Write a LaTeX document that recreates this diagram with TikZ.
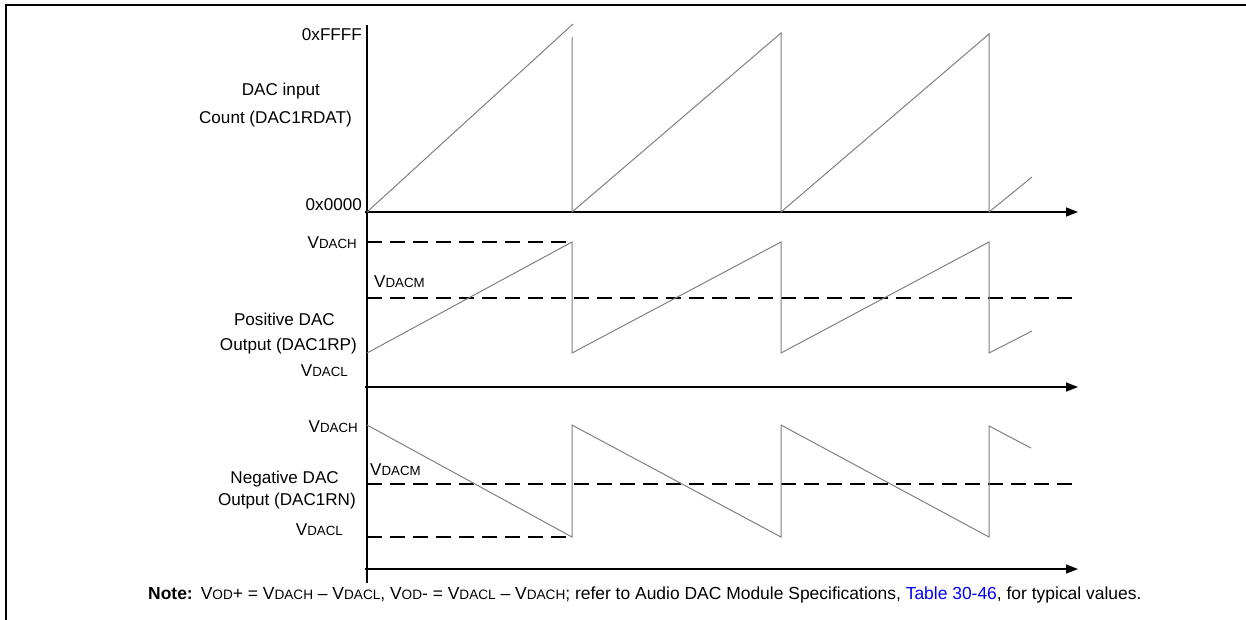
\documentclass[tikz,border=0pt]{standalone}
\usepackage{fontspec}
\setmainfont{Liberation Sans}
\usetikzlibrary{arrows.meta}
\newcommand\smc[1]{{\fontsize{13.3}{16}\selectfont #1}}
\newcommand\smn[1]{{\fontsize{13.6}{16}\selectfont #1}}
\begin{document}
\begin{tikzpicture}[x=1pt,y=-1pt,
  axis/.style={line width=1.5pt,-{Triangle[length=12pt,width=9pt]}},
  vaxis/.style={line width=1.5pt},
  wave/.style={line width=1pt,draw=black!50},
  refline/.style={line width=1.3pt,dash pattern=on 15pt off 8pt},
  lbl/.style={inner sep=0pt,font=\fontsize{17.1}{20}\selectfont},
  notelbl/.style={inner sep=0pt,font=\fontsize{17.45}{20}\selectfont},
  frame/.style={line width=2.6pt,line cap=rect}
]
\useasboundingbox (0,0) rectangle (1246,619);
% frame
\coordinate (fbl) at (6,619);
\coordinate (ftl) at (6,5);
\coordinate (ftr) at (1246,5);
\draw[frame] (fbl) -- (ftl) -- (ftr);

% axes
\coordinate (vtop) at (367,25);
\coordinate (vbot) at (367,583);
\draw[vaxis] (vtop) -- (vbot);
\coordinate (a1s) at (365,212); \coordinate (a1e) at (1078,212);
\coordinate (a2s) at (365,387); \coordinate (a2e) at (1078,387);
\coordinate (a3s) at (365,569); \coordinate (a3e) at (1078,569);
\draw[axis] (a1s) -- (a1e);
\draw[axis] (a2s) -- (a2e);
\draw[axis] (a3s) -- (a3e);

% reference (dashed) levels
\coordinate (h2s) at (367,242); \coordinate (h2e) at (572,242);
\coordinate (m2s) at (367,298); \coordinate (m2e) at (1078,298);
\coordinate (m3s) at (367,484); \coordinate (m3e) at (1078,484);
\coordinate (l3s) at (367,537); \coordinate (l3e) at (572,537);
\draw[refline] (h2s) -- (h2e);
\draw[refline] (m2s) -- (m2e);
\draw[refline] (m3s) -- (m3e);
\draw[refline] (l3s) -- (l3e);

% DAC input count waveform
\draw[wave] (367,212) -- (573,24);
\draw[wave] (572,37) -- (572,212) -- (781,33) -- (781,212) -- (989,34) -- (989,212) -- (1032,177);

% positive DAC output
\draw[wave] (367,353) -- (572,242) -- (572,353) -- (781,242) -- (781,353) -- (989,242) -- (989,353) -- (1032,331);

% negative DAC output
\draw[wave] (367,425) -- (572,537) -- (572,425) -- (781,537) -- (781,425) -- (989,537) -- (989,426) -- (1031,448);

% labels panel 1
\node[lbl,anchor=base east] (ffff) at (362,40) {0xFFFF};
\node[lbl,anchor=base east] (dacin) at (320,95) {DAC input};
\node[lbl,anchor=base east] (count) at (352,123) {Count (DAC1RDAT)};
\node[lbl,anchor=base east] (zero) at (362,210) {0x0000};

% labels panel 2
\node[lbl,anchor=base east] (pvh) at (357,248) {V\smc{DACH}};
\node[lbl,anchor=base west] (pvm) at (374,287) {V\smc{DACM}};
\node[lbl,anchor=base east] (pos1) at (335,325) {Positive DAC};
\node[lbl,anchor=base east] (pos2) at (357,350) {Output (DAC1RP)};
\node[lbl,anchor=base east] (pvl) at (348,376) {V\smc{DACL}};

% labels panel 3
\node[lbl,anchor=base east] (nvh) at (358,432) {V\smc{DACH}};
\node[lbl,anchor=base west] (nvm) at (370,475) {V\smc{DACM}};
\node[lbl,anchor=base east] (neg1) at (339,483) {Negative DAC};
\node[lbl,anchor=base east] (neg2) at (356,505) {Output (DAC1RN)};
\node[lbl,anchor=base east] (nvl) at (343,535) {V\smc{DACL}};

% note
\node[notelbl,anchor=base west] (note) at (148,599) {\textbf{Note:}\hspace{8pt}V\smn{OD}+ = V\smn{DACH} -- V\smn{DACL}, V\smn{OD}- = V\smn{DACL} -- V\smn{DACH}; refer to Audio DAC Module Specifications, \textcolor{blue}{Table 30-46}, for typical values.};
\end{tikzpicture}
\end{document}
